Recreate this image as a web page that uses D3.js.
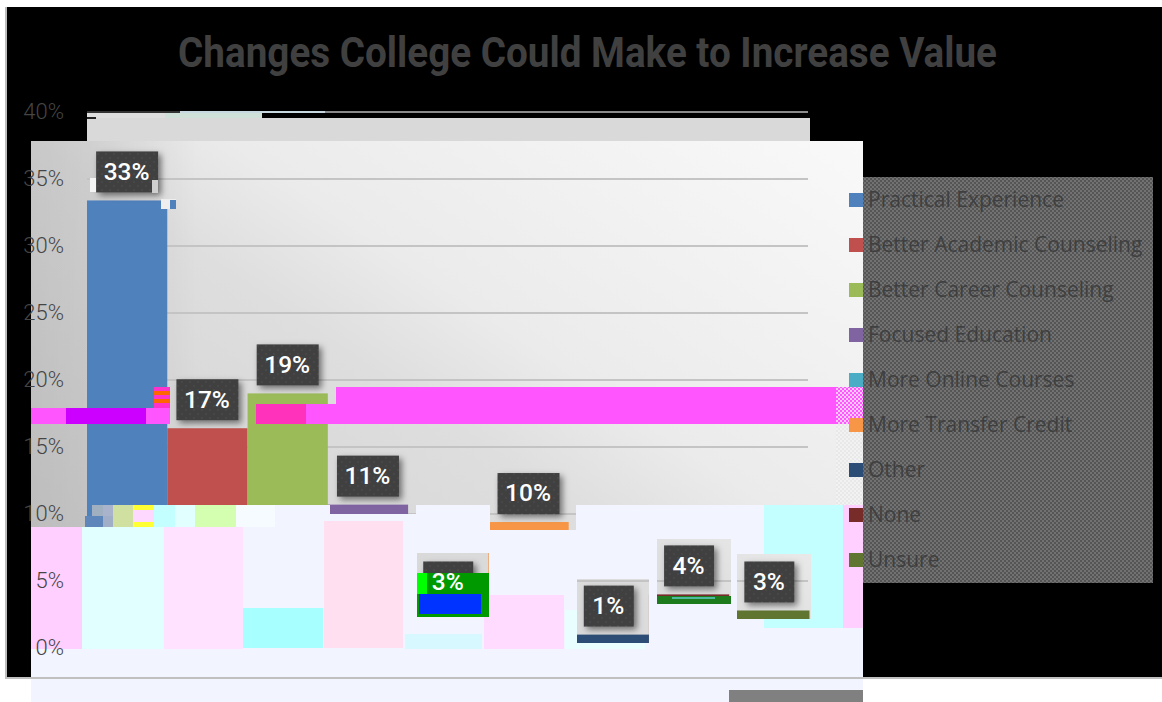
<!DOCTYPE html>
<html><head><meta charset="utf-8">
<script src="https://cdn.jsdelivr.net/npm/d3@7/dist/d3.min.js"></script>
<style>html,body{margin:0;padding:0;background:#fff;overflow:hidden}svg{display:block}</style>
</head><body><svg id="c" width="1162" height="702"></svg>
<script>
const categories = ["Practical Experience","Better Academic Counseling","Better Career Counseling","Focused Education","More Online Courses","More Transfer Credit","Other","None","Unsure"];
const values = [33.4,16.4,19.0,10.7,2.8,9.4,1.0,4.0,2.8];
const valueLabels = ["33%","17%","19%","11%","3%","10%","1%","4%","3%"];
const colors = ["#4f81bd","#c0504d","#9bbb59","#8064a2","#4bacc6","#f79646","#2c4d75","#772c2a","#5f7530"];
const yTicks = [0,5,10,15,20,25,30,35,40];
const titleText = "Changes College Could Make to Increase Value";

// Image-corruption artefacts of the reference: [x0,y0,x1,y1,fill]
const windows = [[31,505,92,527],[330,505,416,514],[490,505,576,530],[417,553,489,617],[577,579,649,643],[657,539,731,604],[737,554,811,619]];
const sheetBlocks = [
 [31,527,82,649,"#ffd0ff"],[82,527,163,649,"#e2ffff"],[164,527,243,649,"#ffe2ff"],[243,608,323,648,"#a8ffff"],
 [324,521,403,648,"#ffdff0"],[405,634,482,649,"#d8f8ff"],[484,595,564,649,"#ffdcff"],[565,610,645,649,"#e9ffff"],
 [764,505,843,628,"#c4ffff"],[843,505,863,628,"#ffd0ff"],[729,690,863,702,"#808080"]
];
const patches = [
 [92,505,103,516,"#a0b0c0"],[103,505,113,516,"#a9b4cc"],[85,516,103,527,"#5f86ba"],[103,516,113,527,"#a0aec8"],
 [113,505,133,527,"#cfe0a0"],[133,505,154,527,"#ffff33"],[133,510,154,522,"#ffd8ff"],[154,505,175,527,"#c4ffff"],
 [175,505,195,527,"#e2ffff"],[195,505,236,527,"#d4ffb0"],[236,505,275,527,"#f5fbff"],
 [31,408,170,424,"#ff55ff"],[66,408,146,424,"#cc00ff"],[154,387,170,408,"#ff33cc"],[154,391,170,395,"#ff6600"],[154,399,170,403,"#ff6600"],
 [256,404,836,424,"#ff55ff"],[336,387,836,404,"#ff55ff"],[256,404,306,424,"#ff33bb"],[836,387,863,424,"url(#pinkdither)"],[836,424,863,505,"url(#greydither)"],
 [417,573,489,594,"#009900"],[417,573,427,594,"#00ff00"],[417,594,489,617,"#009900"],[419,594,481,614,"#0033ff"],
 [657,596,731,604,"#1d7a1d"],[672,597,715,599,"#4fb8a0"],
 [161,199,176,209,"#eeeeee"],[170,200,176,209,"#4f81bd"],[90,178,96,192,"#f4f4f4"],[152,180,158,193,"#cfcfcf"],
 [87,113,165,118,"#dedede"],[165,113,262,118,"#cfe0d8"],[87,117,96,119,"#222222"],[87,111,180,113,"#333333"],[180,111,808,113,"#8a8a8a"],[180,111,325,113,"#c8d8e0"]
];

const svg = d3.select("#c");
const defs = svg.append("defs");
const g1 = defs.append("linearGradient").attr("id","panel").attr("x1","0").attr("y1","1").attr("x2","1").attr("y2","0");
[[0,"#cccccc"],[0.5,"#dedede"],[0.62,"#ebebeb"],[1,"#f9f9f9"]].forEach(s=>g1.append("stop").attr("offset",s[0]).attr("stop-color",s[1]));
const g2 = defs.append("linearGradient").attr("id","shade");
[[0,"#000",0.1],[0.07,"#000",0.08],[0.2,"#000",0]].forEach(s=>g2.append("stop").attr("offset",s[0]).attr("stop-color",s[1]).attr("stop-opacity",s[2]));
const checker=(id,a,b,n)=>{const p=defs.append("pattern").attr("id",id).attr("width",n*2).attr("height",n*2).attr("patternUnits","userSpaceOnUse");
 p.append("rect").attr("width",n*2).attr("height",n*2).attr("fill",a);
 p.append("rect").attr("width",n).attr("height",n).attr("fill",b);
 p.append("rect").attr("x",n).attr("y",n).attr("width",n).attr("height",n).attr("fill",b);};
checker("dither","#727272","#555555",2);
checker("pinkdither","#ff55ff","#ffc8ff",2);
checker("greydither","#e8e8e8","#f2f2f2",2);
const dots = defs.append("pattern").attr("id","boxdots").attr("width",8).attr("height",8).attr("patternUnits","userSpaceOnUse");
dots.append("rect").attr("width",8).attr("height",8).attr("fill","#3f3f3f");
dots.append("circle").attr("cx",2).attr("cy",2).attr("r",1).attr("fill","#4a4a4a");
dots.append("circle").attr("cx",6).attr("cy",6).attr("r",1).attr("fill","#4a4a4a");
const f = defs.append("filter").attr("id","sh").attr("x","-20%").attr("y","-20%").attr("width","150%").attr("height","150%");
f.append("feDropShadow").attr("dx",3).attr("dy",3).attr("stdDeviation",3).attr("flood-color","#000").attr("flood-opacity",0.5);
const m = defs.append("mask").attr("id","sheetmask").attr("maskUnits","userSpaceOnUse").attr("x",0).attr("y",0).attr("width",1162).attr("height",702);
m.append("rect").attr("width",1162).attr("height",702).attr("fill","#fff");
windows.forEach(w=>m.append("rect").attr("x",w[0]).attr("y",w[1]).attr("width",w[2]-w[0]).attr("height",w[3]-w[1]).attr("fill","#000"));

const box=(p,x0,y0,x1,y1,fill)=>p.append("rect").attr("x",x0).attr("y",y0).attr("width",x1-x0).attr("height",y1-y0).attr("fill",fill);

box(svg,6,7,1162,677,"#000");
box(svg,5,7,7,679,"#bdbdbd");
svg.append("text").text(titleText).attr("x",178).attr("y",67)
  .attr("font-family","Roboto").attr("font-weight",700).attr("font-size",42).attr("fill","#404040")
  .attr("textLength",819).attr("lengthAdjust","spacingAndGlyphs");

box(svg,87,118,810,141,"#d9d9d9");
box(svg,31,141,863,702,"url(#panel)");
box(svg,31,141,863,702,"url(#shade)");

const x = d3.scaleBand().domain(categories).range([87,809.5]).padding(0);
const y = d3.scaleLinear().domain([0,40]).range([648,112]);

svg.append("g").selectAll("line").data(yTicks.slice(1,-1)).join("line")
  .attr("x1",87).attr("x2",808).attr("y1",d=>y(d)).attr("y2",d=>y(d)).attr("stroke","#c4c4c4").attr("stroke-width",2);

svg.append("g").selectAll("rect").data(categories).join("rect")
  .attr("x",d=>x(d)).attr("width",x.bandwidth())
  .attr("y",(d,i)=>y(values[i])).attr("height",(d,i)=>y(0)-y(values[i]))
  .attr("fill",(d,i)=>colors[i]);

const bw = i=>valueLabels[i].length>2?62:50;
svg.append("g").selectAll("rect").data(categories).join("rect")
  .attr("x",(d,i)=>x(d)+x.bandwidth()/2-bw(i)/2).attr("width",(d,i)=>bw(i))
  .attr("y",(d,i)=>y(values[i])-49).attr("height",41)
  .attr("fill","url(#boxdots)").attr("filter","url(#sh)");

// lavender corrupted sheet, with holes where the chart shows through
const sheet = svg.append("g").attr("mask","url(#sheetmask)");
box(sheet,31,505,863,702,"#f2f5ff");
sheetBlocks.forEach(b=>box(sheet,b[0],b[1],b[2],b[3],b[4]));
patches.forEach(b=>box(svg,b[0],b[1],b[2],b[3],b[4]));
box(svg,5,677,1162,679,"#c0c0c0");
box(svg,863,679,1162,702,"#fff");

const axis = d3.axisLeft(y).tickValues(yTicks).tickSize(0).tickPadding(0).tickFormat(d=>d+"%");
const ag = svg.append("g").attr("transform","translate(64,0)").call(axis);
ag.select(".domain").remove();
ag.selectAll("text").attr("font-family","Roboto").attr("font-weight",300).attr("font-size",22).attr("fill","#454545").attr("dy","0.28em");

svg.append("g").selectAll("text").data(categories).join("text")
  .text((d,i)=>valueLabels[i])
  .attr("x",d=>x(d)+x.bandwidth()/2-0.5).attr("y",(d,i)=>y(values[i])-29.5).attr("dy","0.36em")
  .attr("text-anchor","middle").attr("font-family","Roboto").attr("font-weight",500).attr("font-size",24.5).attr("fill","#fff");

box(svg,863,177,1153,583,"url(#dither)");
const leg = d3.scaleBand().domain(categories).range([177.5,582.5]);
svg.append("g").selectAll("rect").data(categories).join("rect")
  .attr("x",849).attr("width",14).attr("y",d=>leg(d)+leg.bandwidth()/2-7).attr("height",14).attr("fill",(d,i)=>colors[i]);
svg.append("g").selectAll("text").data(categories).join("text").text(d=>d)
  .attr("x",868).attr("y",d=>leg(d)+leg.bandwidth()/2-1).attr("dy","0.36em")
  .attr("font-family","Open Sans").attr("font-size",21).attr("fill","#3f3f3f");
</script></body></html>
